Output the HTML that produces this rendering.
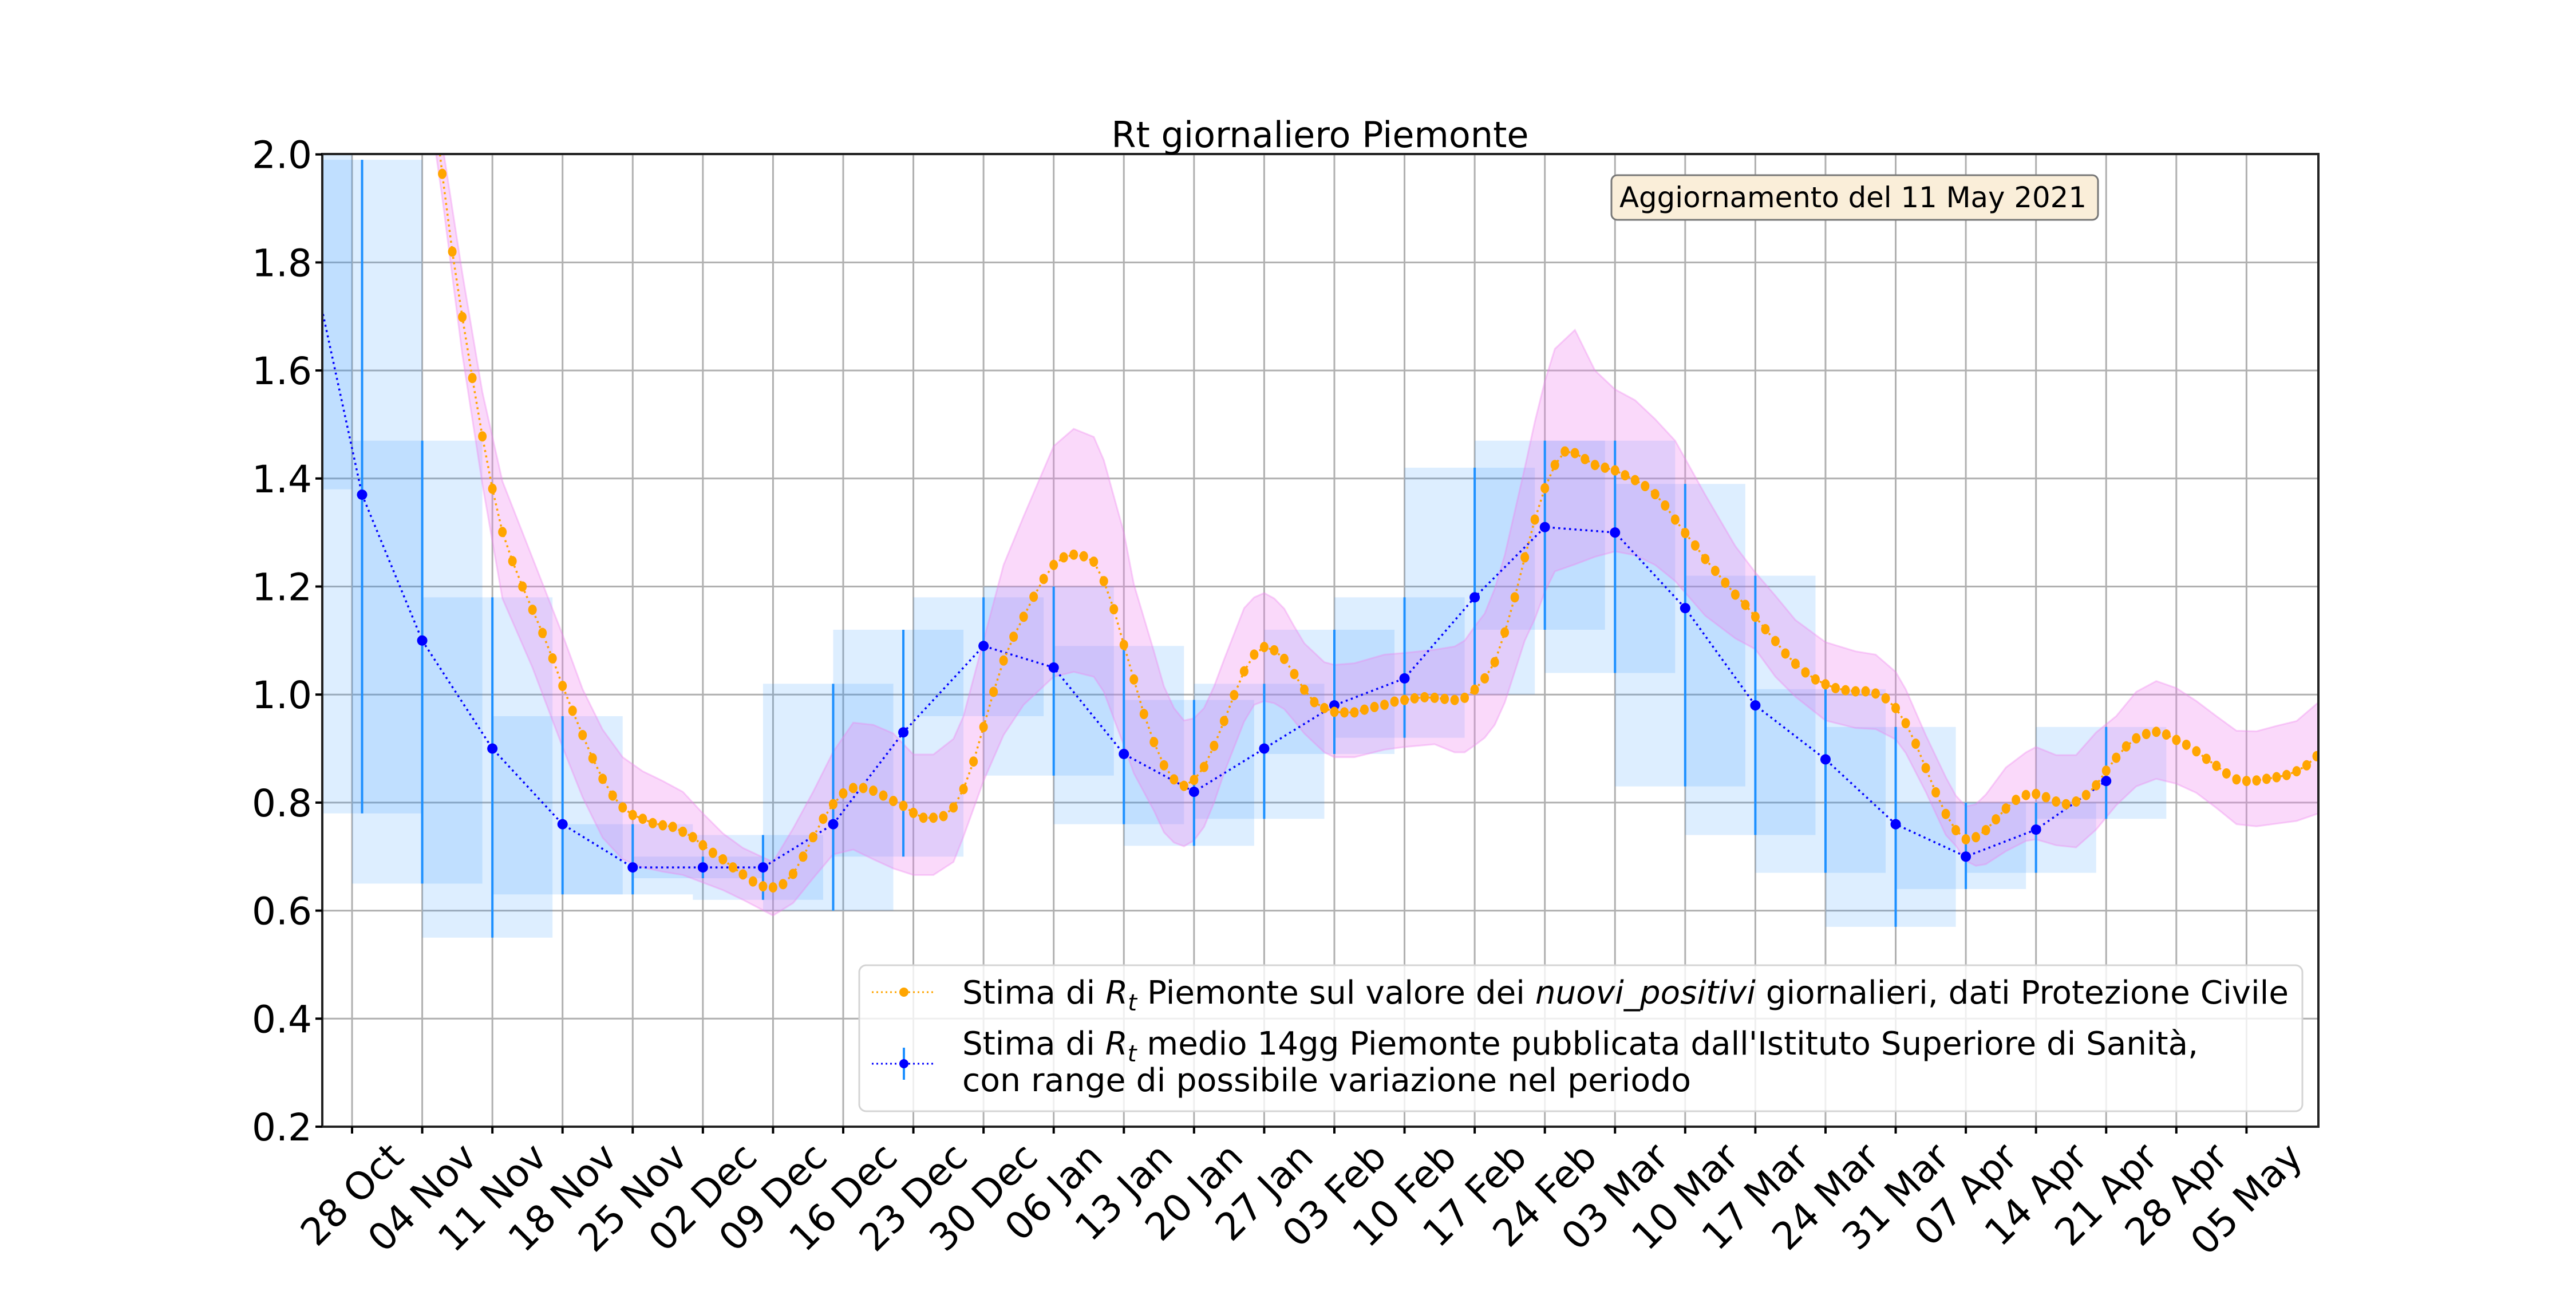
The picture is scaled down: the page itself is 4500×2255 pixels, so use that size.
<!DOCTYPE html>
<html><head><meta charset="utf-8"><style>
html,body{margin:0;padding:0;background:#fff;}
svg text{font-family:"DejaVu Sans","Liberation Sans",sans-serif;}
</style></head><body>
<svg id="chart" xmlns="http://www.w3.org/2000/svg" width="4500" height="2250" viewBox="0 0 4500 2250">
<defs><clipPath id="plotclip"><rect x="563" y="269" width="3487" height="1699"/></clipPath></defs>
<rect width="4500" height="2250" fill="#fff"/>
<g id="grid"></g>
<g id="boxes" clip-path="url(#plotclip)"></g>
<g id="band" clip-path="url(#plotclip)"></g>
<g id="series" clip-path="url(#plotclip)"></g>
<rect x="563" y="269" width="3487" height="1699" fill="none" stroke="#222" stroke-width="4"/>
<g id="axes"></g>
<text x="2306" y="257" font-size="62" text-anchor="middle">Rt giornaliero Piemonte</text>
<g>
<rect x="2815" y="306" width="850" height="78" rx="10" fill="#faeed9" stroke="#777" stroke-width="3"/>
<text x="2829" y="362" font-size="50" textLength="816" lengthAdjust="spacingAndGlyphs">Aggiornamento del 11 May 2021</text>
</g>
<g>
<rect x="1501" y="1686" width="2521" height="255" rx="12" fill="#fff" fill-opacity="0.8" stroke="#d4d4d4" stroke-width="3"/>
<g>
<line x1="1523" y1="1733" x2="1634" y2="1733" stroke="orange" stroke-width="3" stroke-dasharray="3,5"/>
<circle cx="1579" cy="1733" r="8" fill="orange"/>
<text x="1681" y="1753" font-size="56" textLength="2317" lengthAdjust="spacingAndGlyphs">Stima di <tspan font-style="italic">R</tspan><tspan font-style="italic" font-size="40" dy="12">t</tspan><tspan dy="-12"> Piemonte sul valore dei </tspan><tspan font-style="italic">nuovi_positivi</tspan> giornalieri, dati Protezione Civile</text>
</g>
<g>
<line x1="1523" y1="1858" x2="1634" y2="1858" stroke="blue" stroke-width="3" stroke-dasharray="3,5"/>
<line x1="1579" y1="1830" x2="1579" y2="1886" stroke="dodgerblue" stroke-width="4"/>
<circle cx="1579" cy="1858" r="8" fill="blue"/>
<text x="1681" y="1842" font-size="56" textLength="2159" lengthAdjust="spacingAndGlyphs">Stima di <tspan font-style="italic">R</tspan><tspan font-style="italic" font-size="40" dy="12">t</tspan><tspan dy="-12"> medio 14gg Piemonte pubblicata dall'Istituto Superiore di Sanità,</tspan></text>
<text x="1681" y="1906" font-size="56" textLength="1273" lengthAdjust="spacingAndGlyphs">con range di possibile variazione nel periodo</text>
</g>
</g>
</svg>
<script>
// ---- data ----
const tickLabels = ["28 Oct","04 Nov","11 Nov","18 Nov","25 Nov","02 Dec","09 Dec","16 Dec","23 Dec","30 Dec","06 Jan","13 Jan","20 Jan","27 Jan","03 Feb","10 Feb","17 Feb","24 Feb","03 Mar","10 Mar","17 Mar","24 Mar","31 Mar","07 Apr","14 Apr","21 Apr","28 Apr","05 May"];
const yTicks = [0.2,0.4,0.6,0.8,1.0,1.2,1.4,1.6,1.8,2.0];
const issDays = [-6,1,7,14,21,28,35,41,48,55,63,70,77,84,91,98,105,112,119,126,133,140,147,154,161,168,175];
const issValues = [1.97,1.37,1.10,0.90,0.76,0.68,0.68,0.68,0.76,0.93,1.09,1.05,0.89,0.82,0.90,0.98,1.03,1.18,1.31,1.30,1.16,0.98,0.88,0.76,0.70,0.75,0.84];
const issLow = [1.38,0.78,0.65,0.55,0.63,0.63,0.66,0.62,0.60,0.70,0.96,0.85,0.76,0.72,0.77,0.89,0.92,1.00,1.12,1.04,0.83,0.74,0.67,0.57,0.64,0.67,0.77];
const issHigh = [2.6,1.99,1.47,1.18,0.96,0.76,0.70,0.74,1.02,1.12,1.18,1.20,1.09,0.99,1.02,1.12,1.18,1.42,1.47,1.47,1.39,1.22,1.01,0.94,0.80,0.80,0.94];
const pcStartDay = 8;
const pcValues = [2.12,1.964,1.82,1.699,1.586,1.478,1.381,1.301,1.247,1.20,1.157,1.114,1.067,1.016,0.97,0.925,0.882,0.844,0.813,0.791,0.777,0.77,0.762,0.758,0.755,0.746,0.736,0.721,0.707,0.695,0.68,0.667,0.654,0.645,0.643,0.649,0.668,0.70,0.736,0.77,0.797,0.817,0.827,0.827,0.822,0.813,0.803,0.794,0.781,0.772,0.772,0.775,0.791,0.825,0.876,0.94,1.005,1.063,1.107,1.144,1.181,1.214,1.24,1.254,1.259,1.256,1.246,1.21,1.158,1.092,1.028,0.964,0.912,0.869,0.843,0.831,0.842,0.866,0.905,0.951,0.999,1.043,1.074,1.088,1.082,1.066,1.038,1.009,0.986,0.975,0.968,0.967,0.967,0.972,0.977,0.981,0.987,0.99,0.993,0.995,0.994,0.992,0.99,0.994,1.009,1.03,1.06,1.115,1.18,1.254,1.324,1.382,1.425,1.45,1.447,1.436,1.425,1.42,1.415,1.406,1.397,1.386,1.371,1.35,1.324,1.299,1.276,1.251,1.229,1.207,1.185,1.166,1.144,1.121,1.099,1.076,1.057,1.041,1.028,1.019,1.012,1.008,1.006,1.006,1.002,0.993,0.975,0.947,0.909,0.864,0.819,0.779,0.749,0.732,0.736,0.749,0.769,0.789,0.805,0.814,0.816,0.81,0.802,0.797,0.802,0.814,0.832,0.859,0.883,0.904,0.919,0.927,0.931,0.926,0.916,0.907,0.895,0.881,0.868,0.854,0.843,0.84,0.841,0.844,0.847,0.851,0.858,0.869,0.886];
const bandDays = [8,9,11,13,15,18,21,23,25,27,29,31,33,35,37,39,42,44,46,48,50,52,54,56,58,60,61,63,65,67,70,72,74,75,77,78,80,81,82,83,84,85,86,87,89,90,91,92,93,94,95,97,98,100,103,105,108,110,111,112,113,114,115,117,118,119,120,122,124,126,128,130,132,135,138,140,142,144,147,150,152,154,155,157,159,160,161,162,163,165,167,168,170,172,174,176,178,180,182,184,186,188,190,192,194,196.2];
const bandHigh = [2.25,2.02,1.78,1.56,1.395,1.253,1.111,1.01,0.935,0.884,0.858,0.84,0.82,0.78,0.743,0.716,0.69,0.752,0.82,0.894,0.948,0.944,0.928,0.889,0.889,0.918,0.96,1.10,1.24,1.33,1.46,1.492,1.477,1.434,1.30,1.204,1.08,1.015,0.975,0.952,0.956,0.975,1.015,1.065,1.16,1.18,1.188,1.178,1.159,1.126,1.095,1.06,1.055,1.058,1.074,1.077,1.083,1.089,1.10,1.126,1.15,1.196,1.258,1.42,1.505,1.58,1.64,1.675,1.60,1.565,1.545,1.51,1.47,1.37,1.275,1.226,1.183,1.138,1.097,1.08,1.074,1.042,1.01,0.925,0.847,0.813,0.793,0.797,0.815,0.865,0.893,0.903,0.888,0.888,0.93,0.96,1.005,1.025,1.012,0.988,0.96,0.933,0.932,0.942,0.951,0.986];
const bandLow = [2.05,1.92,1.63,1.39,1.178,1.05,0.903,0.81,0.735,0.695,0.68,0.672,0.666,0.652,0.638,0.62,0.591,0.614,0.66,0.704,0.713,0.695,0.678,0.666,0.666,0.69,0.737,0.84,0.925,0.981,1.033,1.042,1.033,1.005,0.906,0.854,0.785,0.745,0.726,0.719,0.73,0.755,0.80,0.855,0.95,0.981,0.988,0.984,0.973,0.951,0.928,0.893,0.884,0.884,0.898,0.903,0.908,0.893,0.893,0.906,0.92,0.944,0.985,1.10,1.14,1.19,1.228,1.241,1.255,1.265,1.258,1.24,1.21,1.146,1.104,1.084,1.033,0.996,0.952,0.938,0.936,0.917,0.892,0.82,0.74,0.72,0.692,0.683,0.686,0.71,0.729,0.732,0.721,0.717,0.75,0.795,0.83,0.844,0.835,0.818,0.79,0.76,0.756,0.761,0.766,0.78];

// ---- scales ----
const X0 = 615, PXD = 17.51, Y0 = 1968, PXV = 943.5;
function xs(d){ return X0 + d*PXD; }
function ys(v){ return Y0 - (v-0.2)*PXV; }
const NS = "http://www.w3.org/2000/svg";
function mk(tag, attrs, parent){ const e=document.createElementNS(NS,tag); for(const k in attrs) e.setAttribute(k,attrs[k]); parent.appendChild(e); return e; }

const grid=document.getElementById('grid'), axes=document.getElementById('axes');
const boxes=document.getElementById('boxes'), band=document.getElementById('band'), series=document.getElementById('series');

tickLabels.forEach((lab,i)=>{
  const x = xs(i*7);
  const gl = mk('line',{x1:x,y1:269,x2:x,y2:1968,stroke:'#b0b0b0','stroke-width':3},grid);
  
  
  const tk = mk('line',{x1:x,y1:1968,x2:x,y2:1980,stroke:'#000','stroke-width':4},axes);
  
  
  const t = mk('text',{'font-size':66,'text-anchor':'middle','dominant-baseline':'central'},axes);
  t.textContent = lab;
  
  
  const w = t.getComputedTextLength();
  const half = (w+48)/(2*Math.SQRT2);
  t.setAttribute('transform','translate('+x+','+(1992+half)+') rotate(-45)');
});
yTicks.forEach(v=>{
  const y = ys(v);
  const gl = mk('line',{x1:563,y1:y,x2:4050,y2:y,stroke:'#b0b0b0','stroke-width':3},grid);
  
  
  const tk = mk('line',{x1:551,y1:y,x2:563,y2:y,stroke:'#000','stroke-width':4},axes);
  
  
  const t = mk('text',{x:545,y:y+24,'font-size':66,'text-anchor':'end'},axes);
  t.textContent = v.toFixed(1);
  
  
});

issDays.forEach((d,i)=>{
  const x1 = xs(d-7), x2 = xs(d+6);
  const r = mk('rect',{x:x1,y:ys(issHigh[i]),width:x2-x1,height:ys(issLow[i])-ys(issHigh[i]),fill:'dodgerblue','fill-opacity':0.15},boxes);
  
  
});

let pts=[];
bandDays.forEach((d,i)=>pts.push(xs(d)+','+ys(bandHigh[i])));
for(let i=bandDays.length-1;i>=0;i--) pts.push(xs(bandDays[i])+','+ys(bandLow[i]));
const bp = mk('polygon',{points:pts.join(' '),fill:'violet','fill-opacity':0.3,stroke:'violet','stroke-opacity':0.35,'stroke-width':3},band);



const issPts = issDays.map((d,i)=>xs(d)+','+ys(issValues[i])).join(' ');
const il = mk('polyline',{points:issPts,fill:'none',stroke:'blue','stroke-width':3.5,'stroke-dasharray':'3.5,6'},series);


issDays.forEach((d,i)=>{
  const eb = mk('line',{x1:xs(d),x2:xs(d),y1:ys(issHigh[i]),y2:ys(issLow[i]),stroke:'dodgerblue','stroke-width':4},series);
  
  
});
issDays.forEach((d,i)=>{
  const c = mk('circle',{cx:xs(d),cy:ys(issValues[i]),r:9,fill:'blue'},series);
  
  
});

const pcPts = pcValues.map((v,i)=>xs(pcStartDay+i)+','+ys(v)).join(' ');
const pl = mk('polyline',{points:pcPts,fill:'none',stroke:'orange','stroke-width':3.5,'stroke-dasharray':'3.5,6'},series);


pcValues.forEach((v,i)=>{
  const c = mk('ellipse',{cx:xs(pcStartDay+i),cy:ys(v),rx:7.5,ry:9,fill:'orange'},series);
  
  
});
</script>
</body></html>
